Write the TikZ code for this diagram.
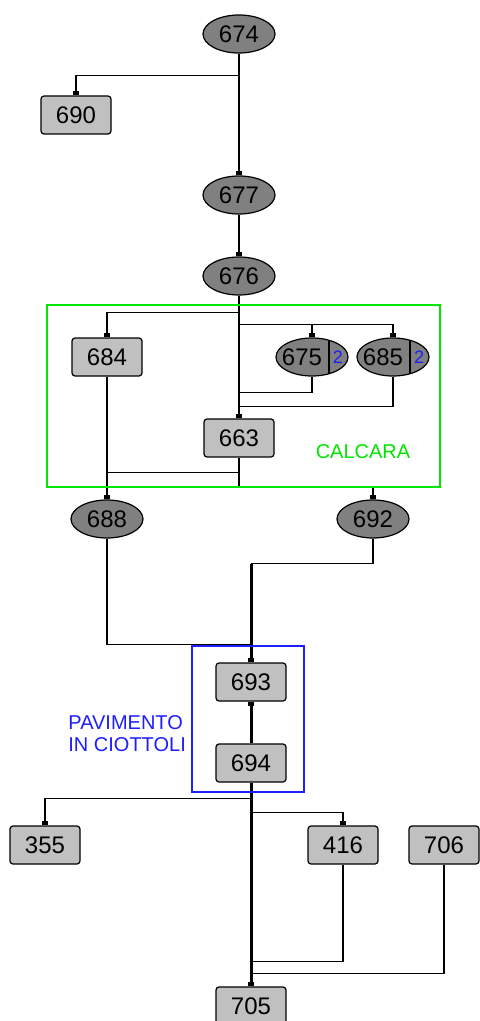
\documentclass[tikz,border=0pt]{standalone}
\usepackage{fontspec}
\setmainfont{Liberation Sans}
\usetikzlibrary{arrows.meta,shapes.geometric,calc}
\definecolor{grisus}{RGB}{192,192,192}
\definecolor{grisneg}{RGB}{128,128,128}
\definecolor{verdecal}{RGB}{0,230,0}
\definecolor{blupav}{RGB}{30,30,255}
\newcommand{\numf}{\fontsize{12}{14}\selectfont}
\tikzset{
  us/.style={draw,rounded corners=1.5pt,line width=0.6pt,fill=grisus,
    minimum width=35pt,minimum height=19pt,inner sep=0pt,font=\numf},
  neg/.style={draw,ellipse,line width=0.6pt,fill=grisneg,
    minimum width=36pt,minimum height=19pt,inner sep=0pt,font=\numf},
  fl/.style={-{Square[length=2pt,width=3pt]},line width=0.65pt},
  flk/.style={fl,line width=1.5pt},
  ln/.style={line width=0.65pt},
  cnt/.style={text=blupav,font=\fontsize{9}{10}\selectfont},
  grlbl/.style={font=\fontsize{10}{11}\selectfont,align=left,inner sep=0pt},
}

\begin{document}
\begin{tikzpicture}[x=0.5pt,y=-0.5pt]
  \useasboundingbox (0,0) rectangle (479,1021);
  \fill[white] (0,0) rectangle (479,1021);
  % units
  \node[neg] (n674) at (239,34) {674};
  \node[us] (n690) at (76,115) {690};
  \node[neg] (n677) at (239,195) {677};
  \node[neg] (n676) at (239,276) {676};
  \node[us] (n684) at (107,357) {684};
  \node[neg,label={[font=\numf,xshift=-5pt]center:675},
    label={[cnt,xshift=13pt]center:2}] (n675) at (312,357) {};
  \node[neg,label={[font=\numf,xshift=-5pt]center:685},
    label={[cnt,xshift=13pt]center:2}] (n685) at (393,357) {};
  \node[us] (n663) at (239,438) {663};
  \node[neg] (n688) at (107,519) {688};
  \node[neg] (n692) at (373,519) {692};
  \node[us] (n693) at (251,682) {693};
  \node[us] (n694) at (251,763) {694};
  \node[us] (n355) at (45,845) {355};
  \node[us] (n416) at (343,845) {416};
  \node[us] (n706) at (444,845) {706};
  \node[us] (n705) at (251,1006) {705};
  \foreach \n in {n675,n685}
    \draw[ln] ([xshift=8.5pt,yshift=8.5pt]\n.center) -- ([xshift=8.5pt,yshift=-8.5pt]\n.center);
  % relations
  \draw[fl] (n674) -- (n677);
  \draw[fl] (n674.south) -- ++(0,22) -| (n690);
  \draw[fl] (n677) -- (n676);
  \draw[fl] (n676.south) -- ++(0,17) -| (n684);
  \draw[fl] (n676.south) -- ++(0,29) -| (n675);
  \draw[fl] (n676.south) -- ++(0,29) -| (n685);
  \draw[fl] (n676) -- (n663);
  \draw[fl] (n675.south) -- ++(0,16) -| (n663);
  \draw[fl] (n685.south) -- ++(0,30) -| (n663);
  \draw[fl] (n684) -- (n688);
  \draw[fl] (n663.south) -- ++(0,15) -| (n688);
  \draw[fl] (n663.south) -- ++(0,29) -| (n692);
  \draw[fl] (n688.south) -- ++(0,106) -| (n693);
  \draw[ln] (n692.south) -- ++(0,25) coordinate (j692) -- (j692 -| n693);
  \draw[flk] (j692 -| n693) -- (n693);
  \draw[flk] (n694) -- (n693);
  \draw[fl] (n694.south) -- ++(0,16) -| (n355);
  \draw[fl] (n694.south) -- ++(0,30) -| (n416);
  \draw[flk] (n694) -- (n705);
  \draw[fl] (n416.south) -- ++(0,97) -| (n705);
  \draw[fl] (n706.south) -- ++(0,109) -| (n705);
  % groups
  \draw[verdecal,line width=0.6pt] (47,305) rectangle (440,487);
  \node[grlbl,text=verdecal] (calcara) at (363,452) {CALCARA};
  \draw[blupav,line width=0.6pt] (192,646) rectangle (304,792);
  \node[grlbl,text=blupav,anchor=west] (pavim) at (68,734) {PAVIMENTO\\IN CIOTTOLI};
\end{tikzpicture}
\end{document}
